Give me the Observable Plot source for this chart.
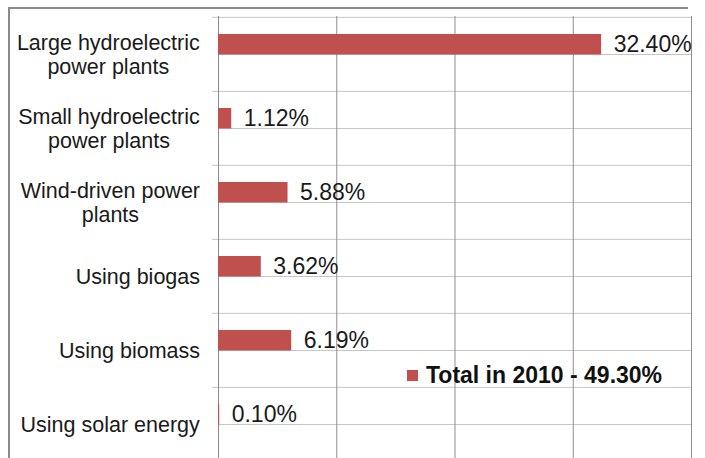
<!DOCTYPE html>
<html><head><meta charset="utf-8">
<script src="https://cdn.jsdelivr.net/npm/d3@7"></script>
<script src="https://cdn.jsdelivr.net/npm/@observablehq/plot@0.6"></script>
<style>
html,body{margin:0;padding:0;background:#fff;}
#wrap{position:relative;width:705px;height:458px;overflow:hidden;font-family:"Liberation Sans",Arial,sans-serif;}
#chart{position:absolute;left:0;top:0;}
#frame{position:absolute;left:8px;top:6.5px;width:678px;height:470px;border-top:2px solid #8a8a8a;border-left:2px solid #8a8a8a;pointer-events:none;}
#legend{position:absolute;left:407px;top:361px;height:28px;display:flex;align-items:center;color:#111;font-weight:bold;font-size:23px;white-space:nowrap;}
#legend .sw{width:11px;height:11px;background:#C0504D;margin-right:8px;}
</style></head>
<body>
<div id="wrap"><div id="chart"></div><div id="frame"></div><div id="legend"><div class="sw"></div><span id="legtext"></span></div></div>
<script>
const categories = ["large", "small", "wind", "biogas", "biomass", "solar"];
const categoryLabels = ["Large hydroelectric\npower plants", "Small hydroelectric\npower plants", "Wind-driven power\nplants", "Using biogas", "Using biomass", "Using solar energy"];
const values = [32.40, 1.12, 5.88, 3.62, 6.19, 0.10];
const xTicks = [0, 10, 20, 30, 40];
const legendLabel = "Total in 2010 - 49.30%";

const data = categories.map((c, i) => ({category: c, label: categoryLabels[i], value: values[i]}));
const labelOf = Object.fromEntries(data.map(d => [d.category, d.label]));

const yRange = [16, 462];
const bw = (yRange[1] - yRange[0]) / categories.length;

const plot = Plot.plot({
  width: 705, height: 458,
  marginLeft: 218, marginRight: 14, marginTop: 16, marginBottom: 0,
  x: {domain: [xTicks[0], xTicks[xTicks.length - 1]], axis: null},
  y: {domain: categories, range: yRange, padding: 0, label: null},
  style: {fontFamily: "'Liberation Sans', Arial, sans-serif", background: "transparent", color: "#1a1a1a", overflow: "visible"},
  marks: [
    Plot.ruleY(categories, {y: d => d, stroke: "#c6c6c6", strokeWidth: 1}),
    Plot.ruleY(categories, {y: d => d, dy: -bw / 2, stroke: "#c6c6c6", strokeWidth: 1, insetLeft: -6}),
    Plot.ruleX(xTicks.slice(1), {stroke: "#8f8f8f", strokeWidth: 1}),
    Plot.ruleX([xTicks[0]], {stroke: "#8a8a8a", strokeWidth: 1}),
    Plot.barX(data, {y: "category", x: "value", fill: "#C0504D", insetTop: 17, insetBottom: 36.5}),
    Plot.text(data, {y: "category", x: "value", text: d => d.value.toFixed(2) + "%", textAnchor: "start", dx: 12, dy: -9.7, fontSize: 23, fill: "#1a1a1a"}),
    Plot.axisY({tickSize: 0, tickPadding: 18, textAnchor: "middle", fontSize: 21.5, lineHeight: 1.12, label: null, tickFormat: d => labelOf[d]})
  ]
});
document.getElementById("chart").appendChild(plot);
document.getElementById("legtext").textContent = legendLabel;

// right-align each label block at x=200, keeping lines centered within the block
const svgLeft = plot.getBoundingClientRect().left;
plot.querySelectorAll('g[aria-label="y-axis tick label"] text').forEach(t => {
  const r = t.getBoundingClientRect();
  const shift = 200 - (r.right - svgLeft);
  t.setAttribute("transform", (t.getAttribute("transform") || "") + ` translate(${shift},0)`);
});
</script>
</body></html>
